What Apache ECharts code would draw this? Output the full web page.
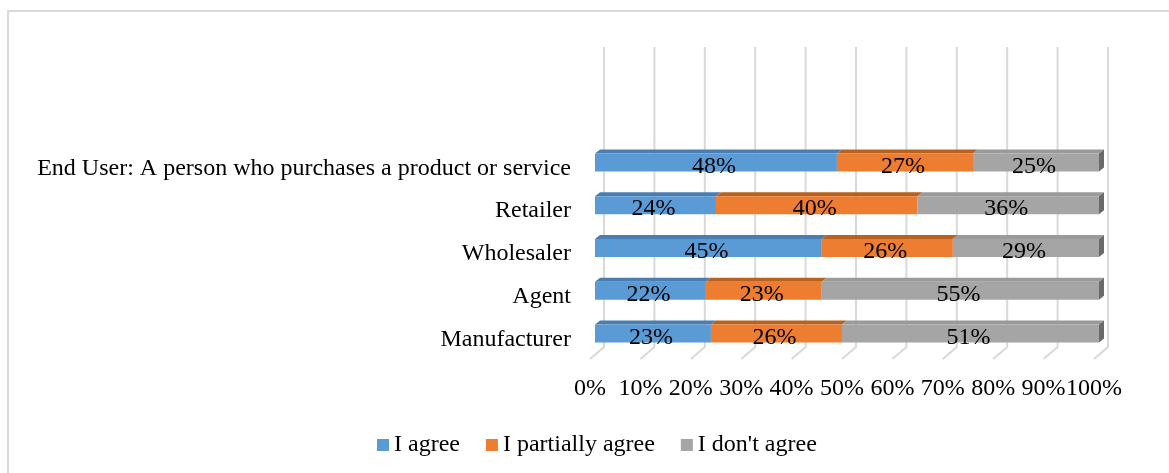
<!DOCTYPE html>
<html>
<head>
<meta charset="utf-8">
<script src="https://cdn.jsdelivr.net/npm/echarts@6/dist/echarts.min.js"></script>
<style>
  html, body { margin: 0; padding: 0; background: #ffffff; }
  #chart { width: 1169px; height: 473px; }
</style>
</head>
<body>
<div id="chart"></div>
<script>
// Survey answers per role in the distribution chain (percent of respondents)
const categories = [
  'Manufacturer',
  'Agent',
  'Wholesaler',
  'Retailer',
  'End User: A person who purchases a product or service'
];
const seriesNames = ['I agree', 'I partially agree', "I don't agree"];
const agree    = [23, 22, 45, 24, 48];
const partial  = [26, 23, 26, 40, 27];
const disagree = [51, 55, 29, 36, 25];
const tickValues = [0, 10, 20, 30, 40, 50, 60, 70, 80, 90, 100];

const FONT = '"Liberation Serif", "Times New Roman", serif';
const FONT_SIZE = 24;
const faceColors = ['#5B9BD5', '#ED7D31', '#A5A5A5'];
const topColors  = ['#4A7EB0', '#B7621F', '#9A9A9A'];
const sideColor  = '#6A6A6A';

// Oblique depth offsets of the bar boxes and of the back wall / floor
const BAR_H = 18, DEPTH_X = 5, DEPTH_Y = 4;
const WALL_DX = 9, FLOOR_DX = -5, WALL_TOP = 47;

const values = [agree, partial, disagree];

// Stack the three answers: [start, end, categoryIndex, value]
function stacked(k) {
  return categories.map((c, i) => {
    let start = 0;
    for (let j = 0; j < k; j++) start += values[j][i];
    return [start, start + values[k][i], i, values[k][i]];
  });
}

function barRenderer(k) {
  const isLast = k === values.length - 1;
  return function (params, api) {
    const s = api.coord([api.value(0), api.value(2)]);
    const e = api.coord([api.value(1), api.value(2)]);
    const y0 = s[1] - BAR_H / 2;
    const children = [
      {
        type: 'polygon',
        shape: { points: [[s[0], y0], [s[0] + DEPTH_X, y0 - DEPTH_Y], [e[0] + DEPTH_X, y0 - DEPTH_Y], [e[0], y0]] },
        style: { fill: topColors[k] }
      },
      {
        type: 'rect',
        shape: { x: s[0], y: y0, width: e[0] - s[0], height: BAR_H },
        style: { fill: faceColors[k] }
      }
    ];
    if (isLast) {
      children.push({
        type: 'polygon',
        shape: { points: [[e[0], y0], [e[0] + DEPTH_X, y0 - DEPTH_Y], [e[0] + DEPTH_X, y0 + BAR_H - DEPTH_Y], [e[0], y0 + BAR_H]] },
        style: { fill: sideColor }
      });
    }
    children.push({
      type: 'text',
      style: {
        text: api.value(3) + '%',
        x: (s[0] + e[0]) / 2 - 2,
        y: s[1] + 4,
        align: 'center',
        verticalAlign: 'middle',
        fill: '#000000',
        font: FONT_SIZE + 'px ' + FONT
      }
    });
    return { type: 'group', children: children };
  };
}

// Back-wall gridlines with their slant across the floor
function gridRenderer(params, api) {
  const x = api.coord([api.value(0), 0])[0];
  const cs = params.coordSys;
  const bottom = cs.y + cs.height;
  return {
    type: 'polyline',
    shape: { points: [[x + WALL_DX, WALL_TOP], [x + WALL_DX, bottom - 8], [x + FLOOR_DX, bottom + 4]] },
    style: { stroke: '#D9D9D9', lineWidth: 2, fill: null }
  };
}

const series = [{
  type: 'custom',
  name: 'grid',
  silent: true,
  z: 1,
  renderItem: gridRenderer,
  encode: { x: 0 },
  data: tickValues.map(v => [v])
}];
seriesNames.forEach((name, k) => {
  series.push({
    type: 'custom',
    name: name,
    z: 3,
    itemStyle: { color: faceColors[k] },
    renderItem: barRenderer(k),
    encode: { x: [0, 1], y: 2 },
    data: stacked(k)
  });
});

const chart = echarts.init(document.getElementById('chart'), null, { renderer: 'canvas' });
chart.setOption({
  animation: false,
  backgroundColor: '#ffffff',
  graphic: [{
    type: 'rect',
    shape: { x: 8, y: 11, width: 1175, height: 475 },
    style: { fill: null, stroke: '#D9D9D9', lineWidth: 2 },
    z: 0
  }],
  grid: { left: 595, width: 504, top: 141, height: 214 },
  xAxis: {
    type: 'value',
    min: 0,
    max: 100,
    interval: 10,
    axisLine: { show: false },
    axisTick: { show: false },
    splitLine: { show: false },
    axisLabel: {
      formatter: '{value}%',
      margin: 22,
      padding: [0, 10, 0, 0],
      color: '#000000',
      fontFamily: FONT,
      fontSize: FONT_SIZE
    }
  },
  yAxis: {
    type: 'category',
    data: categories,
    axisLine: { show: false },
    axisTick: { show: false },
    axisLabel: {
      margin: 24,
      verticalAlign: 'top',
      lineHeight: 12,
      color: '#000000',
      fontFamily: FONT,
      fontSize: FONT_SIZE
    }
  },
  legend: {
    data: seriesNames,
    left: 372,
    top: 428,
    icon: 'rect',
    itemWidth: 12,
    itemHeight: 12,
    itemGap: 26,
    textStyle: { color: '#000000', fontFamily: FONT, fontSize: FONT_SIZE }
  },
  series: series
});
</script>
</body>
</html>
